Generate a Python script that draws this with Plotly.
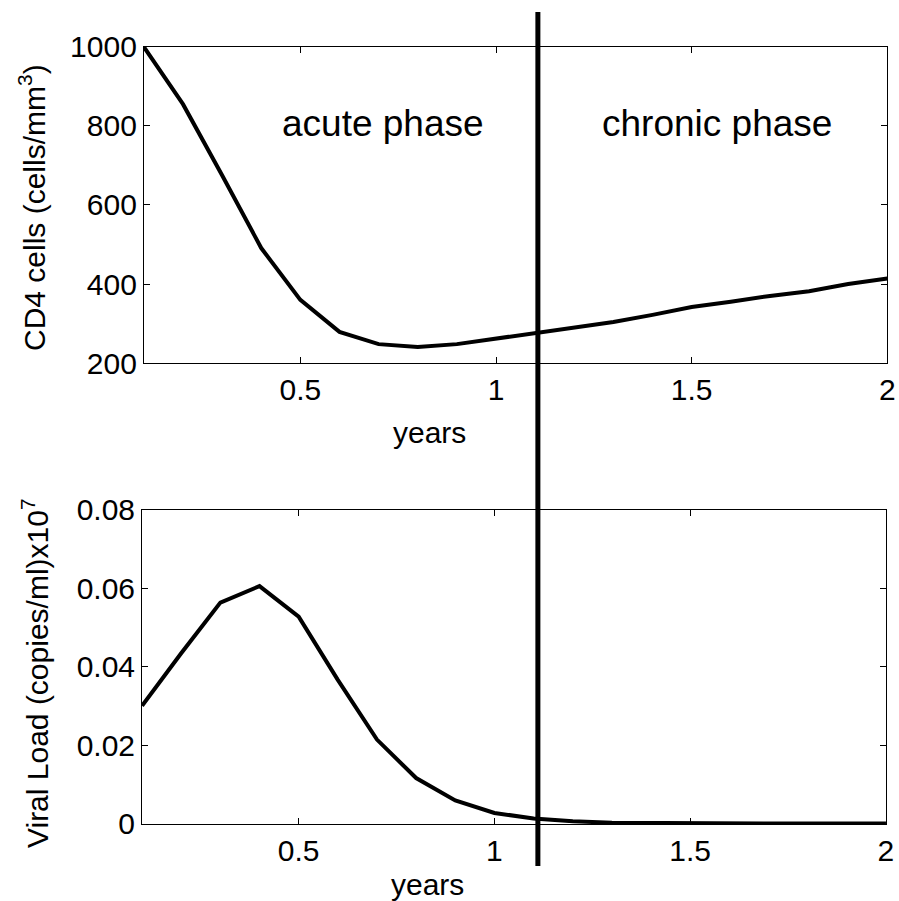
import plotly.graph_objects as go
from plotly.subplots import make_subplots

years = [0.1, 0.2, 0.3, 0.4, 0.5, 0.6, 0.7, 0.8, 0.9, 1.0,
         1.1, 1.2, 1.3, 1.4, 1.5, 1.6, 1.7, 1.8, 1.9, 2.0]
cd4 = [1000, 855, 675, 491, 360, 279, 248, 241, 248, 262,
       276, 291, 304, 322, 342, 355, 370, 382, 400, 414]
viral = [0.0301, 0.0435, 0.0564, 0.0606, 0.0528, 0.0367, 0.0215, 0.0117, 0.0060, 0.0028,
         0.0014, 0.0007, 0.0003, 0.0002, 0.0001, 0.0001, 0.0001, 0.0001, 0.0001, 0.0001]
phase_boundary = 1.107
x_ticks = [0.5, 1, 1.5, 2]
cd4_ticks = [200, 400, 600, 800, 1000]
viral_ticks = [0, 0.02, 0.04, 0.06, 0.08]

FONT = "Liberation Sans, Arial, sans-serif"
FS = 30
FS_PHASE = 37

fig = make_subplots(rows=2, cols=1)
fig.add_trace(go.Scatter(x=years, y=cd4, mode="lines",
                         line=dict(color="black", width=4), showlegend=False), row=1, col=1)
fig.add_trace(go.Scatter(x=years, y=viral, mode="lines",
                         line=dict(color="black", width=4), showlegend=False), row=2, col=1)

axis_common = dict(showline=True, linecolor="black", linewidth=1, mirror="allticks",
                   ticks="inside", ticklen=6, tickcolor="black", tickwidth=1,
                   showgrid=False, zeroline=False, automargin=False,
                   tickfont=dict(family=FONT, size=FS, color="black"))

fig.update_layout(
    width=899, height=901,
    margin=dict(l=0, r=0, t=0, b=0),
    paper_bgcolor="white", plot_bgcolor="white",
    xaxis=dict(domain=[0.160, 0.987], range=[0.1, 2], tickvals=x_ticks,
               ticktext=["0.5", "1", "1.5", "2"], **axis_common),
    yaxis=dict(domain=[0.597, 0.948], range=[200, 1000], tickvals=cd4_ticks, **axis_common),
    xaxis2=dict(domain=[0.158, 0.9855], range=[0.1, 2], tickvals=x_ticks,
                ticktext=["0.5", "1", "1.5", "2"], **axis_common),
    yaxis2=dict(domain=[0.0855, 0.434], range=[0, 0.08], tickvals=viral_ticks,
                ticktext=["0", "0.02", "0.04", "0.06", "0.08"], **axis_common),
)

fig.add_shape(type="line", xref="x", yref="paper", x0=phase_boundary, x1=phase_boundary,
              y0=1 - 866 / 901, y1=1 - 12 / 901, line=dict(color="black", width=5))

ann_font = dict(family=FONT, size=FS, color="black")
phase_font = dict(family=FONT, size=FS_PHASE, color="black")
common = dict(showarrow=False, xanchor="center", yanchor="middle")
annotations = [
    dict(text="acute phase", x=0.711, y=805, xref="x", yref="y", font=phase_font, **common),
    dict(text="chronic phase", x=1.564, y=805, xref="x", yref="y", font=phase_font, **common),
    dict(text="years", x=0.83, y=1 - 432 / 901, xref="x", yref="paper", font=ann_font, **common),
    dict(text="years", x=0.83, y=1 - 884 / 901, xref="x2", yref="paper", font=ann_font, **common),
    dict(text="CD4 cells (cells/mm<sup>3</sup>)", x=32 / 899, y=1 - 208 / 901, xref="paper", yref="paper",
         textangle=-90, font=ann_font, **common),
    dict(text="Viral Load (copies/ml)x10<sup>7</sup>", x=35 / 899, y=1 - 673 / 901, xref="paper", yref="paper",
         textangle=-90, font=ann_font, **common),
]
fig.update_layout(annotations=annotations)

fig.write_html("out.html")
